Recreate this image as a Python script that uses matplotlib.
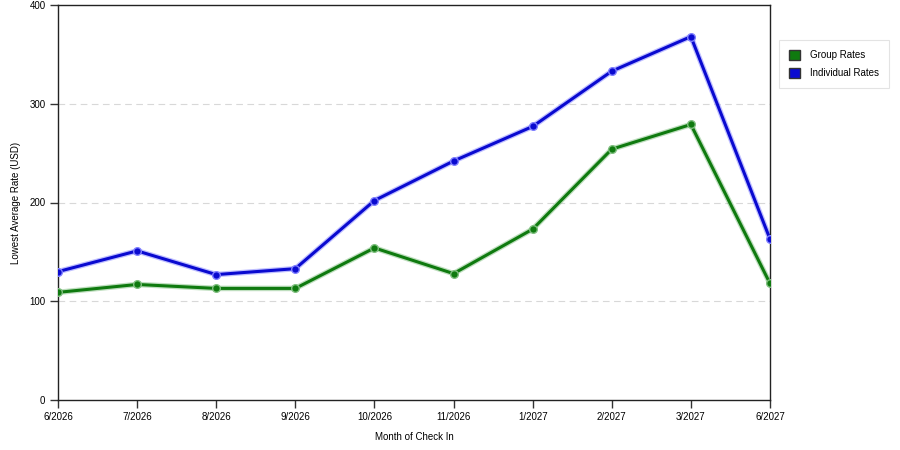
import matplotlib
matplotlib.use("Agg")
import matplotlib.pyplot as plt
from matplotlib.patches import Patch

plt.rcParams["font.family"] = ["Liberation Sans", "DejaVu Sans"]

months = ["6/2026", "7/2026", "8/2026", "9/2026", "10/2026", "11/2026",
          "1/2027", "2/2027", "3/2027", "6/2027"]
group_rates = [109, 117, 113, 113, 154, 128, 173, 254, 279, 118]
individual_rates = [130, 151, 127, 133, 202, 242, 277, 333, 368, 163]

GREEN = "#0f7a0f"
BLUE = "#0a0ad0"

fig = plt.figure(figsize=(9, 4.5), dpi=100)
ax = fig.add_axes([58 / 900, 50 / 450, 712 / 900, 395 / 450])

x = list(range(len(months)))

# soft halo under each line, then the line itself
for vals, col, halo in [(group_rates, GREEN, "#7fbf7f"), (individual_rates, BLUE, "#8080ff")]:
    ax.plot(x, vals, color=halo, linewidth=4.0, alpha=0.5, solid_capstyle="round", zorder=2)
    ax.plot(x, vals, color=col, linewidth=2.2, marker="o", markersize=5.5,
            markerfacecolor=col, markeredgecolor=halo, markeredgewidth=1.0, zorder=3)

ax.set_xlim(0, len(months) - 1)
ax.set_ylim(0, 400)
ax.set_xticks(x)
ax.set_xticklabels(months, fontsize=7)
ax.set_yticks([0, 100, 200, 300, 400])
ax.set_yticklabels(["0", "100", "200", "300", "400"], fontsize=7)
ax.tick_params(direction="out", length=6, width=1, color="#333333", pad=3)

for v in [100, 200, 300]:
    ax.axhline(v, color="#d8d8d8", linestyle=(0, (6, 4)), linewidth=0.8, zorder=1)

for side in ["top", "right", "left", "bottom"]:
    ax.spines[side].set_color("#222222")
    ax.spines[side].set_linewidth(1.0)

ax.set_xlabel("Month of Check In", fontsize=7, labelpad=7)
ax.set_ylabel("Lowest Average Rate (USD)", fontsize=7, labelpad=6)

handles = [Patch(facecolor=GREEN, edgecolor="#333333", label="Group Rates"),
           Patch(facecolor=BLUE, edgecolor="#333333", label="Individual Rates")]
leg = fig.legend(handles=handles, loc="upper left", bbox_to_anchor=(779 / 900, 1 - 40 / 450),
                 fontsize=7, frameon=True, fancybox=False, handlelength=1.2, handleheight=1.2,
                 borderpad=1.0, labelspacing=0.8, handletextpad=1.0, borderaxespad=0)
leg.get_frame().set_edgecolor("#dddddd")
leg.get_frame().set_linewidth(0.8)

fig.savefig("out.png", dpi=100)
